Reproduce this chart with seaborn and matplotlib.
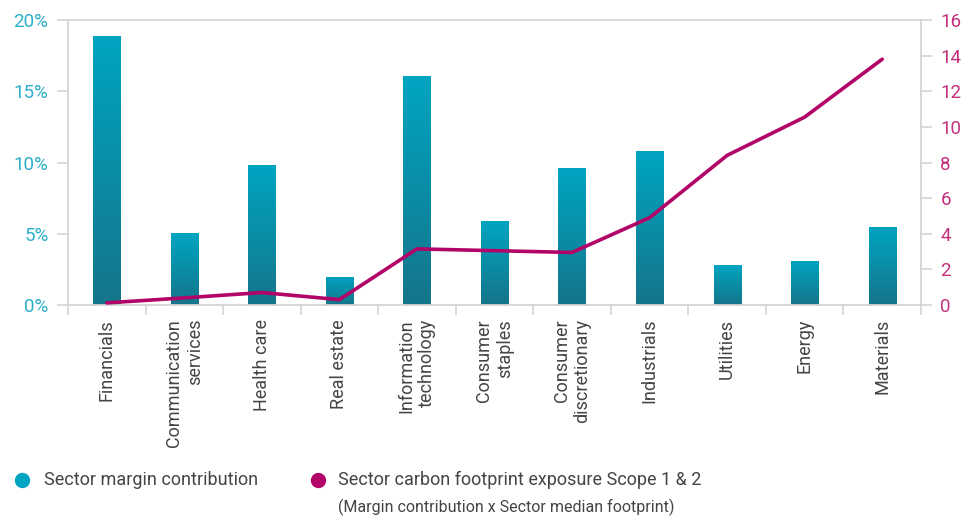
import numpy as np
import pandas as pd
import matplotlib
matplotlib.use("Agg")
import matplotlib.pyplot as plt
from matplotlib.lines import Line2D
from matplotlib.colors import LinearSegmentedColormap
import seaborn as sns

sectors = ["Financials", "Communication\nservices", "Health care", "Real estate",
           "Information\ntechnology", "Consumer\nstaples", "Consumer\ndiscretionary",
           "Industrials", "Utilities", "Energy", "Materials"]
margin_contribution = [18.9, 5.05, 9.8, 2.0, 16.1, 5.9, 9.6, 10.8, 2.8, 3.1, 5.5]
carbon_exposure = [0.12, 0.4, 0.7, 0.3, 3.15, 3.05, 2.95, 4.9, 8.4, 10.55, 13.8]
left_ticks = [0, 5, 10, 15, 20]
left_labels = ["0%", "5%", "10%", "15%", "20%"]
right_ticks = [0, 2, 4, 6, 8, 10, 12, 14, 16]

TEAL_TOP = "#00a5c2"
TEAL_BOTTOM = "#15758a"
MAGENTA = "#b10368"
TEAL_TEXT = "#2cafc9"
MAGENTA_TEXT = "#c42f7c"
GREY = "#d4d4d4"
TEXT = "#444444"

sns.set_theme(style="white")
plt.rcParams["font.family"] = ["Roboto", "DejaVu Sans"]

df = pd.DataFrame({"sector": sectors, "margin": margin_contribution,
                   "carbon": carbon_exposure})

fig = plt.figure(figsize=(9.64, 5.18), dpi=100)
ax = fig.add_axes([68 / 964, 1 - 305 / 518, (921 - 68) / 964, (305 - 20) / 518])

sns.barplot(data=df, x="sector", y="margin", ax=ax, width=0.35,
            color=TEAL_TOP, saturation=1, linewidth=0)

# vertical gradient fill for every bar
cmap = LinearSegmentedColormap.from_list("teal", [TEAL_BOTTOM, TEAL_TOP])
grad = np.linspace(0, 1, 256).reshape(-1, 1)
for patch in ax.patches:
    x0, y0 = patch.get_x(), patch.get_y()
    w, h = patch.get_width(), patch.get_height()
    im = ax.imshow(grad, extent=[x0, x0 + w, y0, y0 + h], origin="lower",
                   cmap=cmap, aspect="auto", zorder=2)
    im.set_clip_path(patch)
    patch.set_facecolor("none")

ax.set_xlim(-0.5, len(sectors) - 0.5)
ax.set_ylim(0, 20)
ax.set_yticks(left_ticks)
ax.set_yticklabels(left_labels, color=TEAL_TEXT, fontsize=13.5)
ax.set_xlabel("")
ax.set_ylabel("")

# category labels at centres, tick marks at boundaries
ax.set_xticks(np.arange(-0.5, len(sectors), 1.0))
ax.set_xticklabels([])
ax.set_xticks(np.arange(len(sectors)), minor=True)
ax.set_xticklabels(sectors, minor=True, rotation=90, ha="center", va="top",
                   multialignment="right", color=TEXT, fontsize=13)
ax.tick_params(axis="x", which="minor", length=0, pad=10)
ax.tick_params(axis="x", which="major", length=7, width=1.2, color=GREY,
               direction="out", bottom=True)
ax.tick_params(axis="y", length=8, width=1.2, color=GREY, left=True, pad=6)

for side in ["left", "right", "top", "bottom"]:
    ax.spines[side].set_visible(True)
    ax.spines[side].set_color(GREY)
    ax.spines[side].set_linewidth(1.3)
ax.grid(False)

ax2 = ax.twinx()
sns.lineplot(x=np.arange(len(sectors)), y=carbon_exposure, ax=ax2,
             color=MAGENTA, linewidth=2.6, solid_capstyle="round")
ax2.set_ylim(0, 16)
ax2.set_yticks(right_ticks)
ax2.set_yticklabels([str(t) for t in right_ticks], color=MAGENTA_TEXT, fontsize=13.5)
ax2.tick_params(axis="y", length=8, width=1.2, color=GREY, right=True, pad=6)
for side in ["left", "right", "top", "bottom"]:
    ax2.spines[side].set_visible(False)
ax2.grid(False)
ax2.set_ylabel("")

# legend
fig.add_artist(Line2D([22 / 964], [1 - 480 / 518], marker="o", markersize=10,
                      color=TEAL_TOP, linestyle="none", transform=fig.transFigure))
fig.text(44 / 964, 1 - 480 / 518, "Sector margin contribution", color=TEXT,
         fontsize=13, va="center", ha="left")
fig.add_artist(Line2D([318 / 964], [1 - 480 / 518], marker="o", markersize=10,
                      color=MAGENTA, linestyle="none", transform=fig.transFigure))
fig.text(338 / 964, 1 - 480 / 518, "Sector carbon footprint exposure Scope 1 & 2",
         color=TEXT, fontsize=13, va="center", ha="left")
fig.text(338 / 964, 1 - 507 / 518, "(Margin contribution x Sector median footprint)",
         color=TEXT, fontsize=11.5, va="center", ha="left")

fig.savefig("out.png", dpi=100, facecolor="white")
